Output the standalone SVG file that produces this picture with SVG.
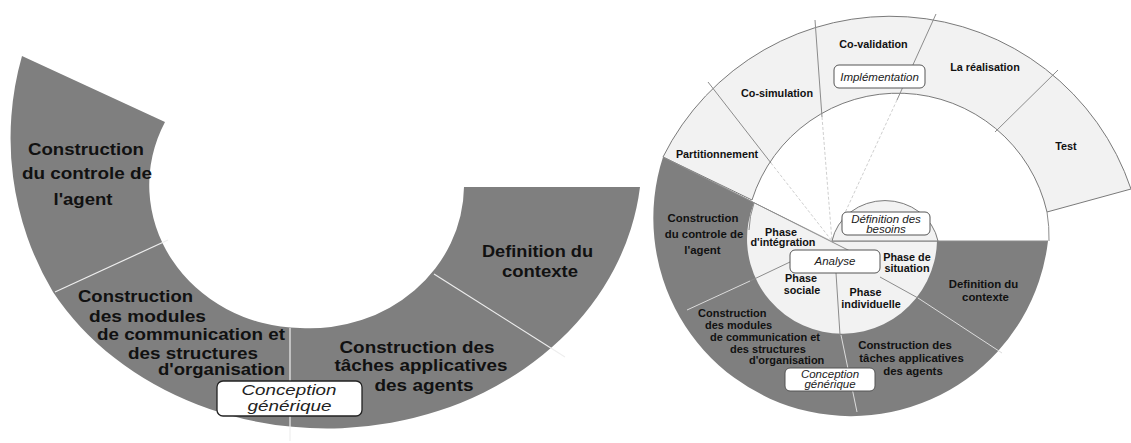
<svg xmlns="http://www.w3.org/2000/svg" width="1131" height="443" viewBox="0 0 1131 443">
<style>
.dark{fill:#7f7f7f}
.light{fill:#f2f2f2;stroke:#7a7a7a;stroke-width:1}
.lbl{font-family:"Liberation Sans",Arial,sans-serif;font-weight:bold;fill:#111}
.c{text-anchor:middle}
.big{font-size:17px}
.bigb{font-size:16.5px}
.sm{font-size:10.8px}
.md{font-size:11.4px}
.it{font-family:"Liberation Sans",Arial,sans-serif;font-style:italic;fill:#222;text-anchor:middle}
.its{font-size:11.5px}
.box{fill:#fff;stroke:#555;stroke-width:1}
.wl{stroke:#eeeeee;stroke-width:1.2;fill:none}
.gl{stroke:#8c8c8c;stroke-width:1;fill:none}
.dl{stroke:#cfcfcf;stroke-width:1;fill:none;stroke-dasharray:3 2}
.ll{stroke:#dcdcdc;stroke-width:1;fill:none}
</style>
<rect width="1131" height="443" fill="#fff"/>

<!-- LEFT DIAGRAM -->
<g id="left-ring">
<path class="dark" d="M22,56 A300 300 0 0 0 53,292 A315 270 0 0 0 640,187 L464,187 A154 143 0 0 1 300,328 A154 143 0 0 1 165,122 Z"/>
</g>
<g id="left-connectors">
<line class="wl" x1="168" y1="240" x2="55" y2="292"/>
<line class="wl" x1="290" y1="328" x2="290" y2="441"/>
<line class="wl" x1="434" y1="274" x2="565" y2="357"/>
</g>
<g id="left-controle">
<text class="lbl big c" x="86" y="155" textLength="116" lengthAdjust="spacingAndGlyphs">Construction</text>
<text class="lbl big c" x="87" y="179" textLength="130" lengthAdjust="spacingAndGlyphs">du  controle de</text>
<text class="lbl big c" x="83" y="205" textLength="59" lengthAdjust="spacingAndGlyphs">l'agent</text>
</g>
<g id="left-modules">
<text class="lbl bigb" x="78" y="302" textLength="115" lengthAdjust="spacingAndGlyphs">Construction</text>
<text class="lbl bigb" x="89" y="322" textLength="117" lengthAdjust="spacingAndGlyphs">des  modules</text>
<text class="lbl bigb" x="97" y="340" textLength="188" lengthAdjust="spacingAndGlyphs">de communication et</text>
<text class="lbl bigb" x="128" y="359" textLength="130" lengthAdjust="spacingAndGlyphs">des structures</text>
<text class="lbl bigb" x="158" y="375" textLength="127" lengthAdjust="spacingAndGlyphs">d'organisation</text>
</g>
<g id="left-contexte">
<text class="lbl big c" x="537.5" y="257" textLength="111" lengthAdjust="spacingAndGlyphs">Definition du</text>
<text class="lbl big c" x="540" y="277" textLength="76" lengthAdjust="spacingAndGlyphs">contexte</text>
</g>
<g id="left-taches">
<text class="lbl big c" x="417" y="353" textLength="155" lengthAdjust="spacingAndGlyphs">Construction des</text>
<text class="lbl big c" x="421" y="371" textLength="173" lengthAdjust="spacingAndGlyphs">tâches applicatives</text>
<text class="lbl big c" x="424" y="391" textLength="99" lengthAdjust="spacingAndGlyphs">des agents</text>
</g>
<g id="left-conception">
<rect x="217" y="381" width="145" height="35" rx="6" fill="#fff" stroke="#222" stroke-width="1.3"/>
<text class="it" x="289" y="394.5" font-size="14" textLength="95" lengthAdjust="spacingAndGlyphs">Conception</text>
<text class="it" x="289.5" y="410.5" font-size="14" textLength="84" lengthAdjust="spacingAndGlyphs">générique</text>
</g>

<!-- RIGHT DIAGRAM -->
<g id="implementation-ring">
<path class="light" d="M663,157 A254 254 0 0 1 1131,189 L1047,212 A153 153 0 0 0 752,200 Z"/>
</g>
<g id="conception-ring">
<path class="dark" d="M663,157 A198 198 0 1 0 1048,241 L832,241 Z"/>
</g>
<g id="analyse-disc">
<path d="M832,241 L754,203 A95 95 0 1 0 937,241 Z" fill="#f2f2f2"/>
<path class="gl" d="M754,203 A95 95 0 0 0 749,230"/>
</g>
<g id="connectors">
<path class="gl" d="M1047,212 A153 153 0 0 1 1049,241"/>
<line class="gl" x1="708" y1="82" x2="771" y2="163"/>
<line class="gl" x1="815" y1="20" x2="822" y2="117"/>
<line class="gl" x1="936" y1="14" x2="897" y2="100"/>
<line class="gl" x1="1058" y1="70" x2="995" y2="132"/>
<line class="dl" x1="771" y1="163" x2="832" y2="241"/>
<line class="dl" x1="822" y1="117" x2="832" y2="241"/>
<line class="dl" x1="897" y1="100" x2="832" y2="241"/>
<line class="gl" x1="663" y1="157" x2="850" y2="251"/>
<line class="gl" x1="832" y1="241" x2="1048" y2="241"/>
<line class="gl" x1="750" y1="281" x2="790" y2="262"/>
<line class="ll" x1="687" y1="310" x2="750" y2="281"/>
<line class="gl" x1="836" y1="273" x2="840" y2="335"/>
<line class="ll" x1="841" y1="335" x2="857" y2="412"/>
<line class="gl" x1="880" y1="277" x2="918" y2="298"/>
<line class="ll" x1="918" y1="298" x2="1002" y2="353"/>
</g>
<g id="besoins">
<path class="light" d="M832,241 A54 50 0 0 1 938,241 Z"/>
<rect class="box" x="842" y="212" width="88" height="23" rx="5"/>
<text class="it its" x="886" y="223">Définition des</text>
<text class="it its" x="886" y="233">besoins</text>
</g>
<g id="implementation">
<rect class="box" x="834" y="65" width="91" height="23" rx="5"/>
<text class="it its" x="879.5" y="81">Implémentation</text>
</g>
<g id="analyse">
<rect class="box" x="790" y="250" width="90" height="23" rx="5"/>
<text class="it its" x="835" y="265">Analyse</text>
</g>
<g id="conception">
<rect class="box" x="785" y="368" width="90" height="23" rx="5"/>
<text class="it its" x="830" y="378">Conception</text>
<text class="it its" x="830" y="388">générique</text>
</g>
<g id="partitionnement"><text class="lbl sm c" x="717" y="158">Partitionnement</text></g>
<g id="co-simulation"><text class="lbl sm c" x="777" y="97">Co-simulation</text></g>
<g id="co-validation"><text class="lbl sm c" x="873.5" y="48">Co-validation</text></g>
<g id="realisation"><text class="lbl sm c" x="985" y="71">La réalisation</text></g>
<g id="test"><text class="lbl sm c" x="1066" y="150">Test</text></g>
<g id="phase-integration">
<text class="lbl sm c" x="781" y="236">Phase</text>
<text class="lbl sm c" x="783" y="246">d'intégration</text>
</g>
<g id="phase-situation">
<text class="lbl sm c" x="907" y="261">Phase de</text>
<text class="lbl sm c" x="907" y="272">situation</text>
</g>
<g id="phase-sociale">
<text class="lbl sm c" x="801" y="282">Phase</text>
<text class="lbl sm c" x="802" y="294">sociale</text>
</g>
<g id="phase-individuelle">
<text class="lbl sm c" x="865.5" y="296">Phase</text>
<text class="lbl sm c" x="871" y="308">individuelle</text>
</g>
<g id="r-controle">
<text class="lbl md c" x="703" y="222">Construction</text>
<text class="lbl md c" x="704" y="238">du  controle de</text>
<text class="lbl md c" x="702.5" y="254">l'agent</text>
</g>
<g id="r-modules">
<text class="lbl" font-size="11" x="698" y="317">Construction</text>
<text class="lbl" font-size="11" x="705" y="329">des  modules</text>
<text class="lbl" font-size="11" x="710" y="341">de communication et</text>
<text class="lbl" font-size="11" x="730" y="353">des structures</text>
<text class="lbl" font-size="11" x="749" y="364">d'organisation</text>
</g>
<g id="r-contexte">
<text class="lbl md c" x="983.5" y="288">Definition du</text>
<text class="lbl md c" x="985.5" y="301">contexte</text>
</g>
<g id="r-taches">
<text class="lbl md c" x="905" y="349">Construction des</text>
<text class="lbl md c" x="911.5" y="362">tâches applicatives</text>
<text class="lbl md c" x="913" y="375">des agents</text>
</g>
</svg>
